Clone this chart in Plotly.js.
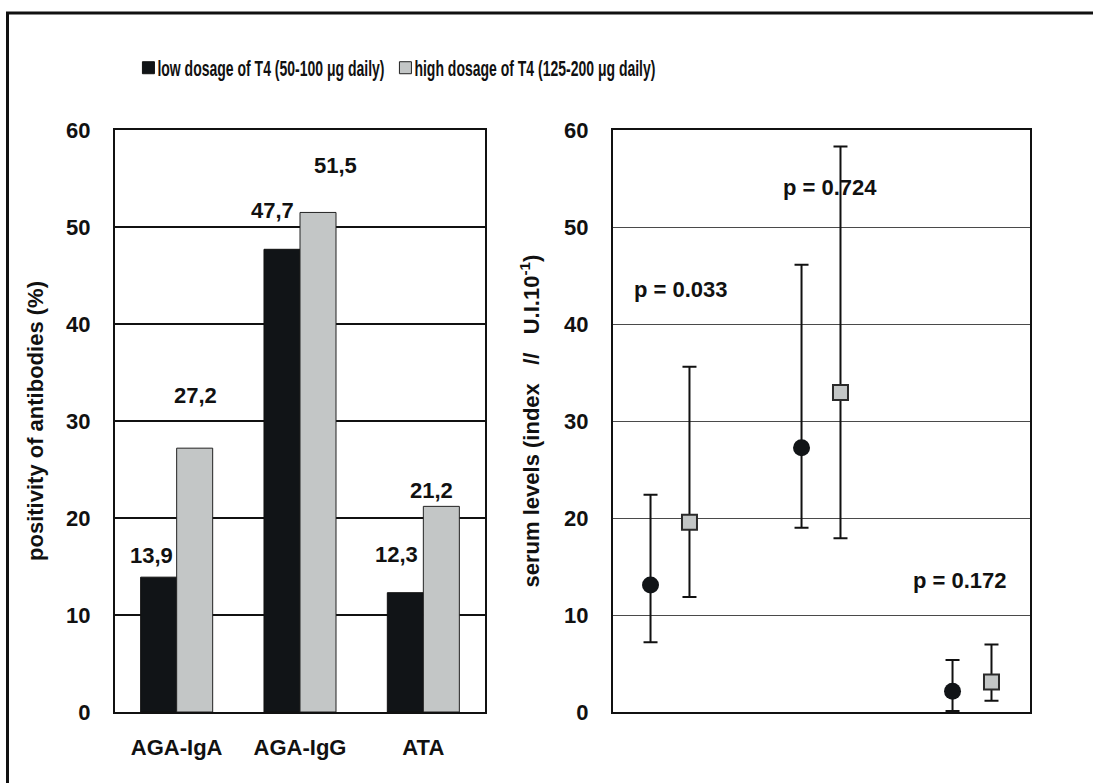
<!DOCTYPE html>
<html><head><meta charset="utf-8">
<script src="https://cdn.plot.ly/plotly-3.0.1.min.js"></script>
<style>html,body{margin:0;padding:0;background:#fff}#chart{width:1093px;height:783px}</style>
</head><body><div id="chart"></div>
<script>
// ---- data ----
const categories = ['AGA-IgA', 'AGA-IgG', 'ATA'];
const lowPct = [13.9, 47.7, 12.3];
const highPct = [27.2, 51.5, 21.2];
const lowPctLabels = ['13,9', '47,7', '12,3'];
const highPctLabels = ['27,2', '51,5', '21,2'];
const groupIndex = [1, 2, 3];
const lowMean = [13.1, 27.25, 2.15];
const lowUpper = [22.4, 46.1, 5.35];
const lowLower = [7.2, 19.0, 0.1];
const highMean = [19.55, 32.95, 3.1];
const highUpper = [35.6, 58.3, 6.95];
const highLower = [11.85, 17.9, 1.15];
const pLabels = ['p = 0.033', 'p = 0.724', 'p = 0.172'];
const legendNames = ['low dosage of T4 (50-100 \u03bcg daily)', 'high dosage of T4 (125-200 \u03bcg daily)'];
const yTitleLeft = 'positivity of antibodies (%)';
const yTitleRight = 'serum levels (index\u00a0\u00a0\u00a0//\u00a0\u00a0\u00a0U.I.10<sup>-1</sup>)';

// ---- styles ----
const DARK = '#111417', GREY = '#c3c6c6';
const FS = 22;
const lowLabelDx = [-7, -10, -9], lowLabelDy = [22, 39, 38];
const highLabelDx = [1, 17, -10], highLabelDy = [53, 47, 16];
const pPos = [[1.073, 43.6], [2.06, 54.1], [2.92, 13.6]];
const pairOffset = 0.129;
const BAR_HALF = 18;

const sub = (a, b) => a.map((v, i) => v - b[i]);

const traces = [
  {type: 'bar', x: categories, y: lowPct, name: legendNames[0], xaxis: 'x', yaxis: 'y',
   marker: {color: DARK, line: {color: '#111', width: 1}}},
  {type: 'bar', x: categories, y: highPct, name: legendNames[1], xaxis: 'x', yaxis: 'y',
   marker: {color: GREY, line: {color: '#222', width: 1}}},
  {type: 'scatter', mode: 'markers', x: groupIndex.map(g => g - pairOffset), y: lowMean,
   xaxis: 'x2', yaxis: 'y2', showlegend: false, hoverinfo: 'skip',
   marker: {symbol: 'circle', size: 17, color: DARK},
   error_y: {type: 'data', symmetric: false, array: sub(lowUpper, lowMean), arrayminus: sub(lowMean, lowLower),
             color: '#111', thickness: 2, width: 7}},
  {type: 'scatter', mode: 'markers', x: groupIndex.map(g => g + pairOffset), y: highMean,
   xaxis: 'x2', yaxis: 'y2', showlegend: false, hoverinfo: 'skip',
   marker: {symbol: 'square', size: 15, color: GREY, line: {color: '#2a2a2a', width: 2}},
   error_y: {type: 'data', symmetric: false, array: sub(highUpper, highMean), arrayminus: sub(highMean, highLower),
             color: '#111', thickness: 2, width: 7}}
];

const annotations = [];
categories.forEach((c, i) => {
  annotations.push({x: c, y: lowPct[i], xref: 'x', yref: 'y', text: lowPctLabels[i], showarrow: false,
    xshift: -BAR_HALF + lowLabelDx[i], yshift: lowLabelDy[i], yanchor: 'middle', font: {size: FS}});
  annotations.push({x: c, y: highPct[i], xref: 'x', yref: 'y', text: highPctLabels[i], showarrow: false,
    xshift: BAR_HALF + highLabelDx[i], yshift: highLabelDy[i], yanchor: 'middle', font: {size: FS}});
});
pLabels.forEach((t, i) => {
  annotations.push({x: pPos[i][0], y: pPos[i][1], xref: 'x2', yref: 'y2', text: t, showarrow: false,
    xanchor: 'center', yanchor: 'middle', font: {size: FS}});
});

const yDom = [71 / 783, 653 / 783];
const layout = {
  width: 1093, height: 783,
  margin: {l: 0, r: 0, t: 0, b: 0},
  paper_bgcolor: '#fff', plot_bgcolor: '#fff',
  font: {family: 'Liberation Sans, Arial, sans-serif', size: FS, color: '#111', weight: 'bold'},
  barmode: 'group', bargap: 0.416, bargroupgap: 0,
  showlegend: true,
  legend: {orientation: 'h', x: 0.1175, y: 0.913, xanchor: 'left', yanchor: 'middle',
    bgcolor: 'rgba(0,0,0,0)', entrywidth: 212, entrywidthmode: 'pixels',
    font: {family: 'Liberation Sans, Arial, sans-serif', size: 14, weight: 'bold', color: '#111'}},
  xaxis: {domain: [115 / 1093, 485 / 1093], anchor: 'y', showline: true, mirror: true, linecolor: '#111', linewidth: 2,
    ticks: '', showgrid: false, zeroline: false, ticklabelstandoff: 15, tickfont: {size: FS}},
  yaxis: {domain: yDom, anchor: 'x', range: [0, 60], dtick: 10, showgrid: true, gridcolor: '#111', gridwidth: 1.3,
    zeroline: false, showline: true, mirror: true, linecolor: '#111', linewidth: 2, ticks: '',
    ticklabelstandoff: 18, tickfont: {size: FS},
    title: {text: yTitleLeft, standoff: 16, font: {size: FS}}},
  xaxis2: {domain: [613 / 1093, 1030 / 1093], anchor: 'y2', range: [0.6225, 3.384], showticklabels: false,
    showgrid: false, zeroline: false, showline: true, mirror: true, linecolor: '#111', linewidth: 2, ticks: ''},
  yaxis2: {domain: yDom, anchor: 'x2', range: [0, 60], dtick: 10, showgrid: true, gridcolor: '#4a4a4a', gridwidth: 1,
    zeroline: false, showline: true, mirror: true, linecolor: '#111', linewidth: 2, ticks: '',
    ticklabelstandoff: 18, tickfont: {size: FS},
    title: {text: yTitleRight, standoff: 18, font: {size: FS}}},
  annotations: annotations,
  shapes: [{type: 'rect', xref: 'paper', yref: 'paper', x0: 7.5 / 1093, x1: 1.02, y0: -0.05, y1: 770 / 783,
    line: {color: '#111', width: 3}, fillcolor: 'rgba(0,0,0,0)'}]
};

Plotly.newPlot('chart', traces, layout, {displayModeBar: false, staticPlot: true}).then(gd => {
  // tall, condensed legend lettering, as in the original figure
  gd.querySelectorAll('.legend [clip-path]').forEach(el => el.removeAttribute('clip-path'));
  gd.querySelectorAll('.legendtext').forEach(t => {
    t.setAttribute('x', 29);
    t.setAttribute('transform', 'scale(1,1.55)');
  });
});
</script></body></html>
